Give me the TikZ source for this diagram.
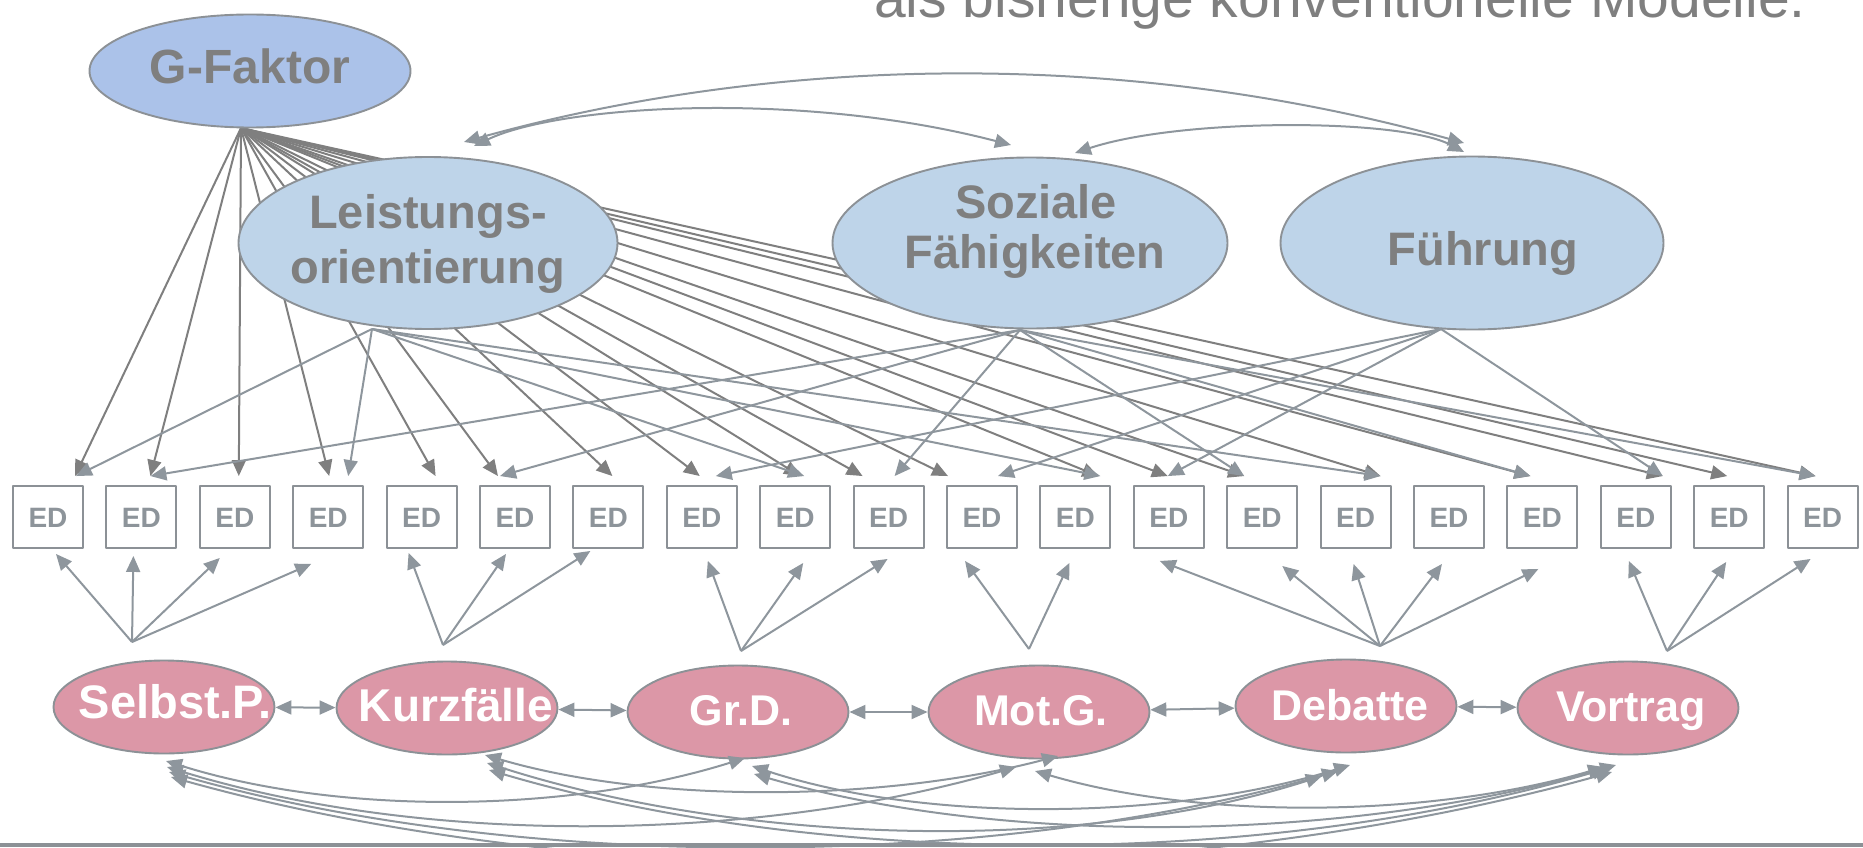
\documentclass[tikz,border=0pt]{standalone}
\usepackage{fontspec}
\setmainfont{Liberation Sans}
\usetikzlibrary{shapes.geometric,arrows.meta,calc}
\definecolor{gline}{HTML}{7F7F7F}
\definecolor{tline}{HTML}{8E969D}
\definecolor{bord}{HTML}{8C9196}
\definecolor{gfill}{HTML}{ABC2E9}
\definecolor{tfill}{HTML}{BED4E9}
\definecolor{mfill}{HTML}{DC97A7}
\definecolor{txtgray}{HTML}{7F7F7F}
\definecolor{edtxt}{HTML}{8D949A}
\begin{document}
\begin{tikzpicture}[x=1pt,y=-1pt,line join=round,
  >={Triangle[length=16pt,width=14pt]},
  gar/.style={draw=gline,line width=2pt,->},
  tar/.style={draw=tline,line width=2pt,->},
  mar/.style={draw=tline,line width=2pt,->},
  cor/.style={draw=tline,line width=2pt,<->},
  edbox/.style={draw=bord,line width=1.9pt,minimum width=70pt,minimum height=62pt,inner sep=0pt,
    font=\fontsize{28}{28}\selectfont\bfseries,text=edtxt,text height=20pt,text depth=0pt},
  gfac/.style={ellipse,draw=bord,line width=1.9pt,fill=gfill,inner sep=0pt},
  trait/.style={ellipse,draw=bord,line width=1.9pt,fill=tfill,inner sep=0pt},
  meth/.style={ellipse,draw=bord,line width=1.9pt,fill=mfill,inner sep=0pt,minimum width=221pt,minimum height=93pt},
  ftxt/.style={font=\fontsize{47}{47}\selectfont\bfseries,text=txtgray,inner sep=0pt,anchor=base},
  mtxt/.style={font=\fontsize{43}{43}\selectfont\bfseries,text=white,inner sep=0pt,anchor=base},
]
\useasboundingbox (0,0) rectangle (1863,848);

% top text (cut off)
\node[font=\fontsize{57}{57}\selectfont,text=txtgray,inner sep=0pt,anchor=base east] (toptxt) at (1806,18) {als bisherige konventionelle Modelle.};

% ED boxes
\foreach \i in {0,...,19}
  \node[edbox] (ed\i) at ({48+93.4*\i},517) {ED};

% fan points
\coordinate (gfan) at (241,128);
\coordinate (lfan) at (372,329);
\coordinate (sfan) at (1020,330);
\coordinate (ffan) at (1441,329);

% G-factor loadings
\foreach \i/\d in {0/27,1/9,2/4,3/1,4/14,5/-17,6/4,7/-2,8/5,9/-26,10/-34,11/23,12/-1,13/-18,14/25,16/-12,17/27,18/-2,19/-7}
  \draw[gar] (gfan) -- ($(ed\i.north)+(\d,-9)$);

% latent ellipses
\node[gfac,minimum width=321pt,minimum height=113pt] (gf) at (250,71) {};
\node[trait,minimum width=379pt,minimum height=172pt] (lo) at (428,243) {};
\node[trait,minimum width=395pt,minimum height=171pt] (sf) at (1030,243) {};
\node[trait,minimum width=383pt,minimum height=173pt] (fu) at (1472,243) {};

\node[ftxt,font=\fontsize{48}{48}\selectfont\bfseries] (gft) at (250,84) {G-Faktor};
\node[ftxt] (lot1) at (428,228) {Leistungs-};
\node[ftxt] (lot2) at (428,283) {orientierung};
\node[ftxt] (sft1) at (1036,218) {Soziale};
\node[ftxt] (sft2) at (1035,268) {Fähigkeiten};
\node[ftxt] (fut) at (1483,265) {Führung};

% trait loadings
\foreach \i/\d in {0/28,3/20,8/9,11/25,14/25}
  \draw[tar] (lfan) -- ($(ed\i.north)+(\d,-9)$);
\foreach \i/\d in {1/9,5/-15,9/6,13/-18,16/-12,19/-7}
  \draw[tar] (sfan) -- ($(ed\i.north)+(\d,-9)$);
\foreach \i/\d in {7/14,10/16,12/-1,17/27}
  \draw[tar] (ffan) -- ($(ed\i.north)+(\d,-9)$);

% trait correlations
\coordinate (lF) at (464,142); \coordinate (lS) at (474,146);
\coordinate (sL) at (1011,145); \coordinate (sF) at (1075,153);
\coordinate (fL) at (1464,143); \coordinate (fS) at (1464,152);
\draw[cor] (lF) .. controls (750,62) and (1100,42) .. (fL);
\draw[cor] (lS) .. controls (560,105) and (800,90) .. (sL);
\draw[cor] (sF) .. controls (1180,118) and (1400,118) .. (fS);

% method ellipses
\node[meth] (sp) at (164,707) {};
\node[meth] (kf) at (447,708) {};
\node[meth] (gd) at (738,712) {};
\node[meth] (mg) at (1039,712) {};
\node[meth] (db) at (1346,706) {};
\node[meth] (vt) at (1628,708) {};
\node[mtxt,font=\fontsize{47}{47}\selectfont\bfseries] (spt) at (175,718) {Selbst.P.};
\node[mtxt,font=\fontsize{46}{46}\selectfont\bfseries] (kft) at (456,721) {Kurzfälle};
\node[mtxt] (gdt) at (741,725) {Gr.D.};
\node[mtxt] (mgt) at (1041,725) {Mot.G.};
\node[mtxt] (dbt) at (1350,720) {Debatte};
\node[mtxt] (vtt) at (1631,721) {Vortrag};

% adjacent method correlations
\draw[cor] (sp) -- (kf);
\draw[cor] (kf) -- (gd);
\draw[cor] (gd) -- (mg);
\draw[cor] (mg) -- (db);
\draw[cor] (db) -- (vt);

% method fans
\coordinate (spf) at (132,642);
\coordinate (kff) at (443,645);
\coordinate (gdf) at (741,651);
\coordinate (mgf) at (1029,649);
\coordinate (dbf) at (1380,646);
\coordinate (vtf) at (1667,651);
\foreach \i/\dx/\dy in {0/8/5,1/-8/7,2/-15/9,3/-17/15}
  \draw[mar] (spf) -- ($(ed\i.south)+(\dx,\dy)$);
\foreach \i/\dx/\dy in {4/-13/4,5/-9/5,6/-18/2}
  \draw[mar] (kff) -- ($(ed\i.south)+(\dx,\dy)$);
\foreach \i/\dx/\dy in {7/6/12,8/8/14,9/-1/10}
  \draw[mar] (gdf) -- ($(ed\i.south)+(\dx,\dy)$);
\foreach \i/\dx/\dy in {10/-17/12,11/-6/14}
  \draw[mar] (mgf) -- ($(ed\i.south)+(\dx,\dy)$);
\foreach \i/\dx/\dy in {12/-9/12,13/20/17,14/-2/15,15/-7/15,16/-4/20}
  \draw[mar] (dbf) -- ($(ed\i.south)+(\dx,\dy)$);
\foreach \i/\dx/\dy in {17/-7/12,18/-3/13,19/-12/10}
  \draw[mar] (vtf) -- ($(ed\i.south)+(\dx,\dy)$);

% non-adjacent method correlations
\coordinate (sG) at (166,761); \coordinate (sM) at (167,767); \coordinate (sD) at (169,772); \coordinate (sV) at (171,777);
\coordinate (kM) at (485,755); \coordinate (kD) at (487,763); \coordinate (kV) at (489,770);
\coordinate (gS) at (745,758); \coordinate (gD) at (752,766); \coordinate (gV) at (754,774);
\coordinate (mS) at (1016,767); \coordinate (mK) at (1058,756); \coordinate (mV) at (1035,771);
\coordinate (dS) at (1338,771); \coordinate (dK) at (1322,776); \coordinate (dG) at (1350,765);
\coordinate (vS) at (1612,772); \coordinate (vK) at (1608,768); \coordinate (vG) at (1616,765); \coordinate (vM) at (1604,767);
\draw[cor] (sG) .. controls +(175,55) and +(-175,55) .. (gS);
\draw[cor] (kM) .. controls +(170,50) and +(-170,45) .. (mK);
\draw[cor] (gD) .. controls +(175,58) and +(-175,55) .. (dG);
\draw[cor] (mV) .. controls +(170,50) and +(-170,50) .. (vM);
\draw[cor] (sM) .. controls +(260,80) and +(-260,75) .. (mS);
\draw[cor] (kD) .. controls +(250,80) and +(-250,80) .. (dK);
\draw[cor] (gV) .. controls +(260,75) and +(-260,75) .. (vG);
\draw[cor] (sD) .. controls +(350,100) and +(-350,100) .. (dS);
\draw[cor] (kV) .. controls +(340,100) and +(-340,100) .. (vK);
\draw[cor] (sV) .. controls +(430,120) and +(-430,120) .. (vS);

% footer line
\draw[draw=bord,line width=4pt] (0,845) -- (1863,845);
\end{tikzpicture}
\end{document}
